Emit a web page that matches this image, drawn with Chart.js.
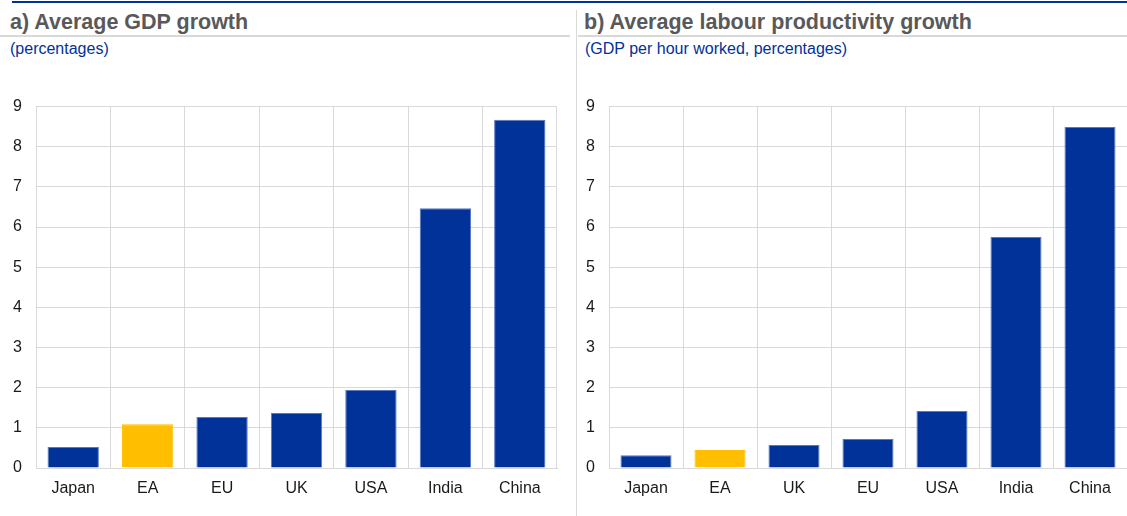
<!DOCTYPE html>
<html>
<head>
    <title>Average GDP and labour productivity growth</title>
    <script src="https://cdn.jsdelivr.net/npm/chart.js@4.4.0/dist/chart.umd.min.js"></script>
    <style>
        body {
            margin: 0;
            width: 1127px;
            height: 516px;
            position: relative;
            overflow: hidden;
            background: #fff;
            font-family: "Liberation Sans", Arial, sans-serif;
        }
        .topline {
            position: absolute; left: 12px; right: 0; top: 1px; height: 2px;
            background: #003299;
        }
        .rule {
            position: absolute; top: 35px; height: 2px; background: #d9d9d9;
        }
        .divider {
            position: absolute; left: 576px; top: 10px; bottom: 0; width: 1px;
            background: #d9d9d9;
        }
        .title {
            position: absolute; top: 10px; font-size: 21.5px; font-weight: bold;
            color: #595959; white-space: nowrap;
        }
        .subtitle {
            position: absolute; top: 40px; font-size: 16px; color: #003299;
            white-space: nowrap;
        }
        .panel { position: absolute; top: 83px; height: 433px; }
    </style>
</head>
<body>
    <div class="topline"></div>
    <div class="rule" style="left:0;width:570px"></div>
    <div class="rule" style="left:578px;right:0"></div>
    <div class="divider"></div>
    <div class="title" style="left:10px">a) Average GDP growth</div>
    <div class="subtitle" style="left:10px">(percentages)</div>
    <div class="title" style="left:584px">b) Average labour productivity growth</div>
    <div class="subtitle" style="left:585px">(GDP per hour worked, percentages)</div>

    <div class="panel" style="left:0;width:570px"><canvas id="gdp"></canvas></div>
    <div class="panel" style="left:570px;width:557px"><canvas id="prod"></canvas></div>

    <script>
        const gdpLabels = ['Japan', 'EA', 'EU', 'UK', 'USA', 'India', 'China'];
        const gdpValues = [0.52, 1.09, 1.27, 1.37, 1.94, 6.47, 8.67];

        const prodLabels = ['Japan', 'EA', 'UK', 'EU', 'USA', 'India', 'China'];
        const prodValues = [0.32, 0.45, 0.57, 0.72, 1.42, 5.75, 8.49];

        const yTicks = [0, 1, 2, 3, 4, 5, 6, 7, 8, 9];

        const blue = '#003299';
        const yellow = '#ffbf00';

        function makeChart(id, labels, values, axisWidth, rightPad) {
            const colors = labels.map(l => l === 'EA' ? yellow : blue);
            const borders = labels.map(l => l === 'EA' ? yellow : '#5a78c0');
            return new Chart(document.getElementById(id), {
                type: 'bar',
                data: {
                    labels: labels,
                    datasets: [{
                        data: values,
                        backgroundColor: colors,
                        borderColor: borders,
                        borderWidth: {top: 1, left: 1, right: 1, bottom: 0},
                        barPercentage: 0.69,
                        categoryPercentage: 1
                    }]
                },
                options: {
                    responsive: true,
                    maintainAspectRatio: false,
                    animation: false,
                    layout: { padding: { top: 9, right: rightPad, left: 0, bottom: 0 } },
                    plugins: {
                        legend: { display: false },
                        tooltip: { enabled: false }
                    },
                    scales: {
                        x: {
                            grid: { color: '#d9d9d9', lineWidth: 1, drawTicks: false },
                            border: { color: '#d9d9d9' },
                            ticks: {
                                color: '#1a1a1a',
                                font: { family: 'Liberation Sans', size: 16 },
                                padding: 11
                            },
                            afterFit: s => { s.height = 48; }
                        },
                        y: {
                            min: 0,
                            max: 9,
                            afterBuildTicks: s => { s.ticks = yTicks.map(v => ({ value: v })); },
                            grid: { color: '#d9d9d9', lineWidth: 1, drawTicks: false },
                            border: { color: '#d9d9d9' },
                            ticks: {
                                color: '#1a1a1a',
                                font: { family: 'Liberation Sans', size: 16 },
                                padding: 14
                            },
                            afterFit: s => { s.width = axisWidth; }
                        }
                    }
                }
            });
        }

        makeChart('gdp', gdpLabels, gdpValues, 36, 13);
        makeChart('prod', prodLabels, prodValues, 39, 0);
    </script>
</body>
</html>
